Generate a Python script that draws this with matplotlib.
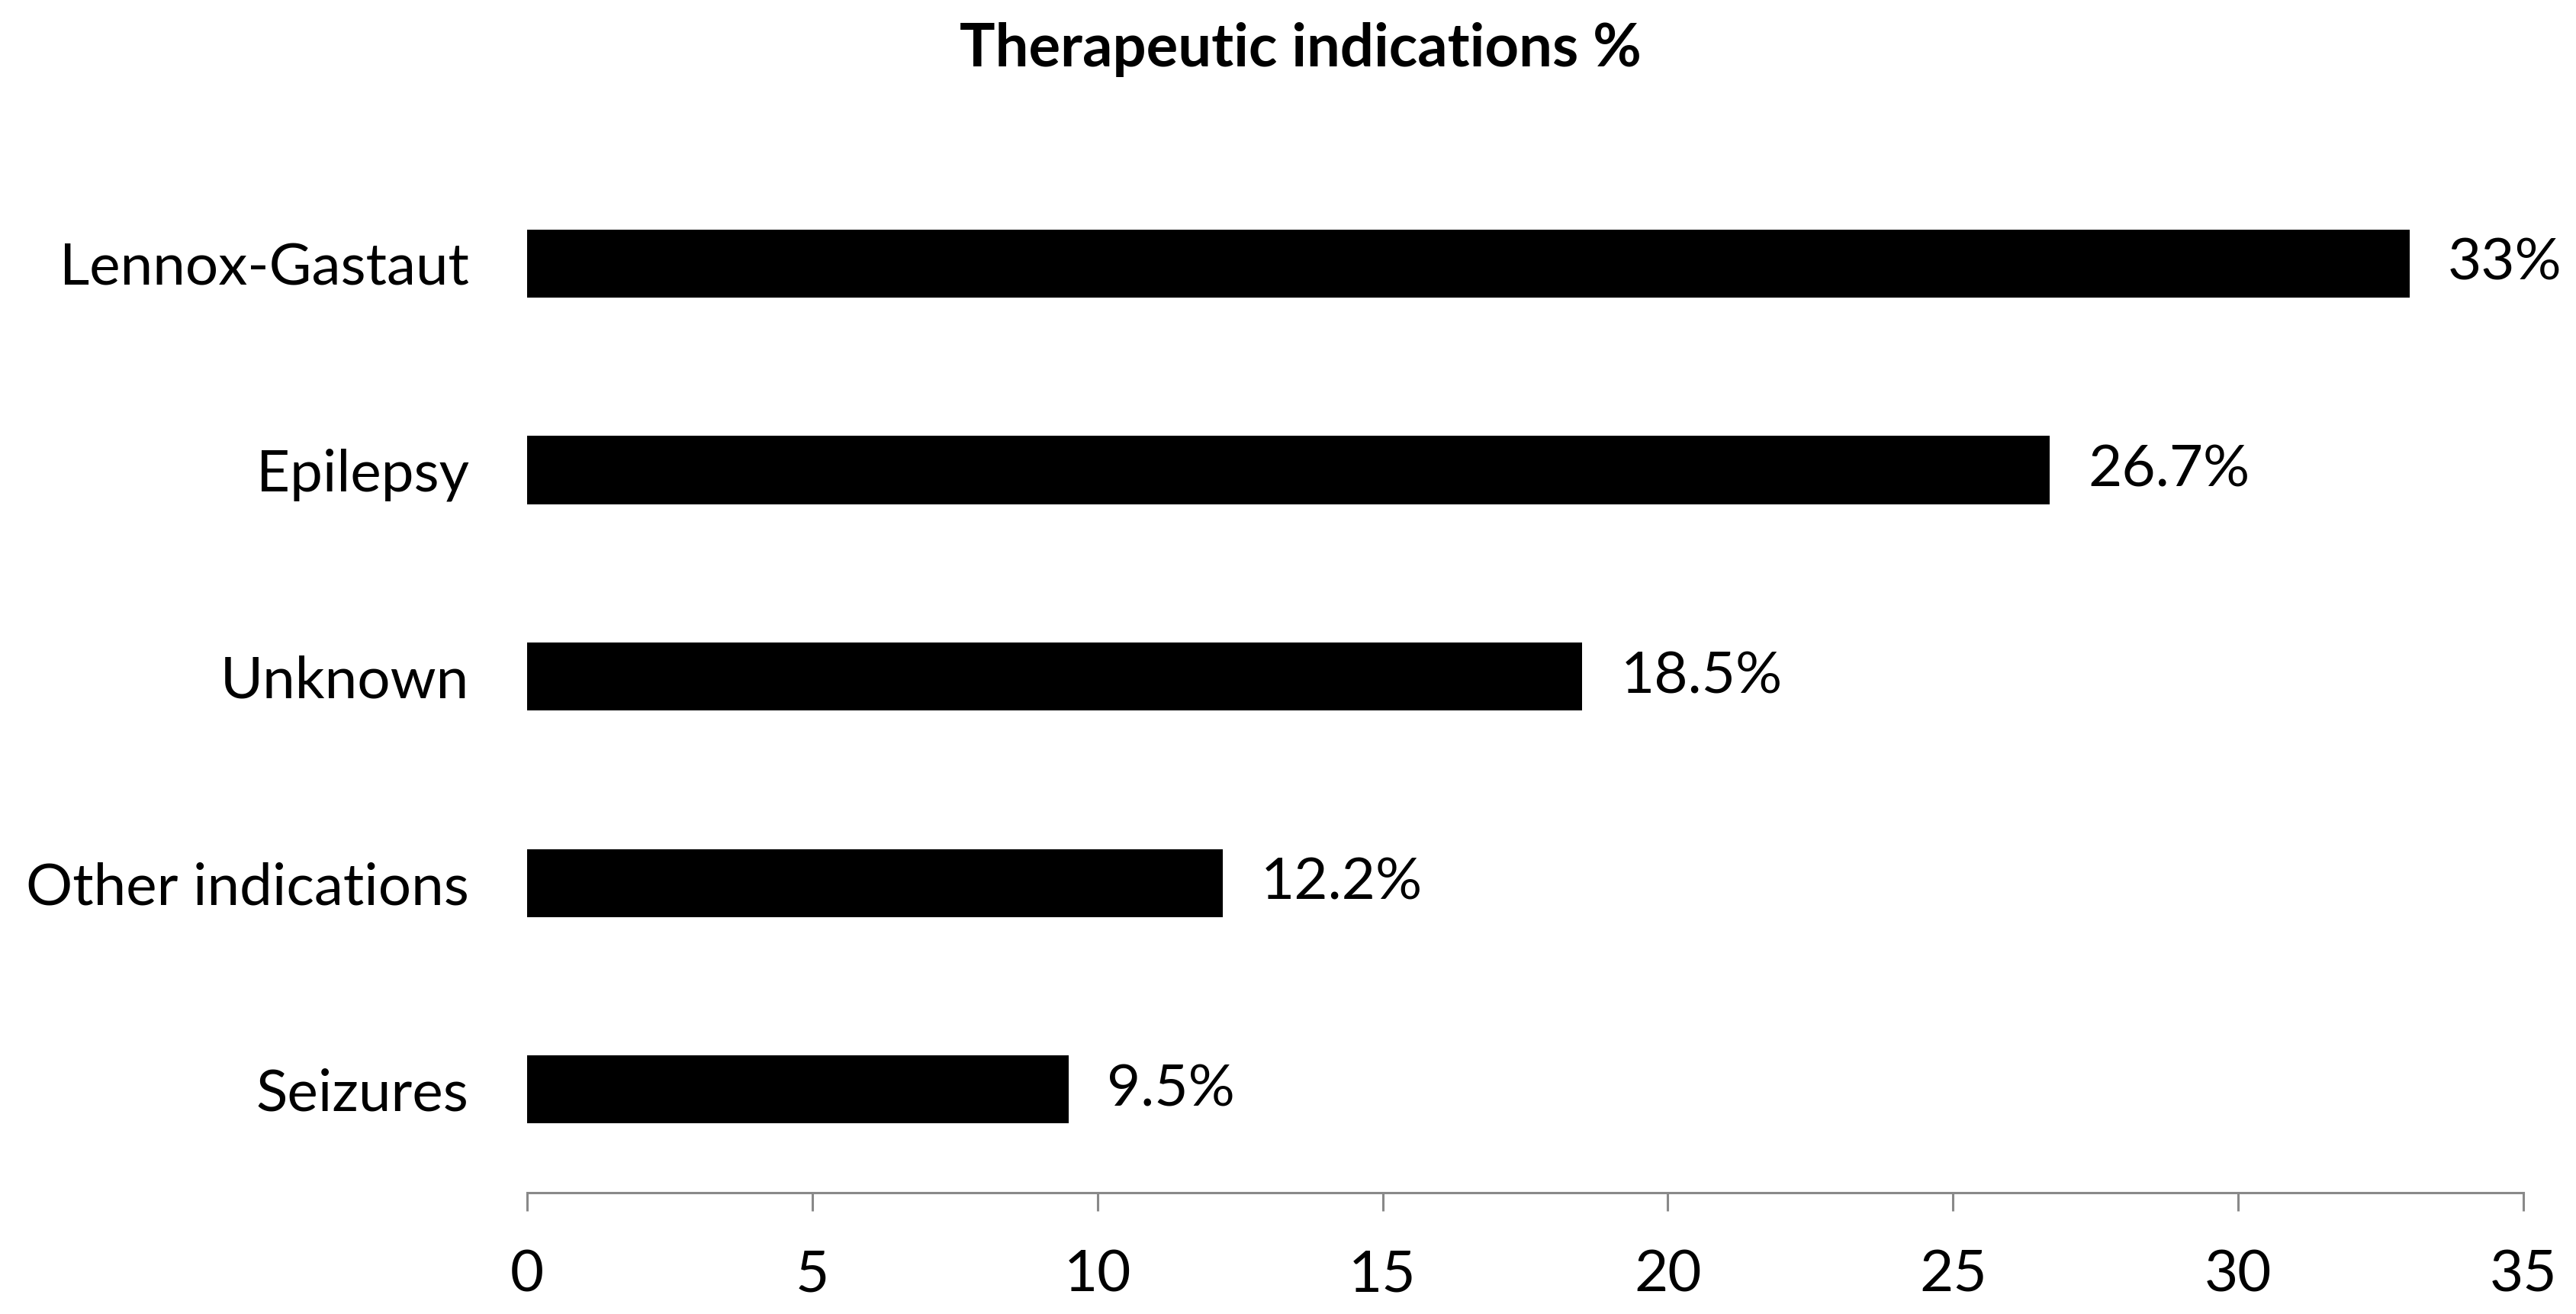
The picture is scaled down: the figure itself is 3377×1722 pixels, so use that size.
import matplotlib.pyplot as plt

categories = ['Lennox-Gastaut', 'Epilepsy', 'Unknown', 'Other indications', 'Seizures']
values = [33, 26.7, 18.5, 12.2, 9.5]
value_labels = ['33%', '26.7%', '18.5%', '12.2%', '9.5%']
x_ticks = [0, 5, 10, 15, 20, 25, 30, 35]

plt.rcParams['font.family'] = ['Lato', 'DejaVu Sans']

fig = plt.figure(figsize=(33.77, 17.22), dpi=100)
ax = fig.add_axes([0.2046, 0.0923, 0.775, 0.7857])

# top category first
ypos = list(range(len(categories)))[::-1]
ax.barh(ypos, values, height=0.33, color='black')

for y, v, lab in zip(ypos, values, value_labels):
    ax.annotate(lab, (v, y), xytext=(36, 0), textcoords='offset points',
                va='center', ha='left', fontsize=55)

ax.set_xlim(0, 35)
ax.set_ylim(-0.5, 4.5)
ax.set_xticks(x_ticks)
ax.set_yticks(ypos)
ax.set_yticklabels(categories)

for s in ['top', 'right', 'left']:
    ax.spines[s].set_visible(False)
ax.spines['bottom'].set_color('#898989')
ax.spines['bottom'].set_linewidth(2.2)

ax.tick_params(axis='x', direction='out', length=17, width=2.2, color='#898989',
               pad=36, labelsize=55)
ax.tick_params(axis='y', length=0, pad=55, labelsize=55)

fig.text(0.505, 0.962, 'Therapeutic indications %', ha='center', va='center',
         fontsize=56, fontweight='bold')

fig.savefig('out.png', dpi=100)
